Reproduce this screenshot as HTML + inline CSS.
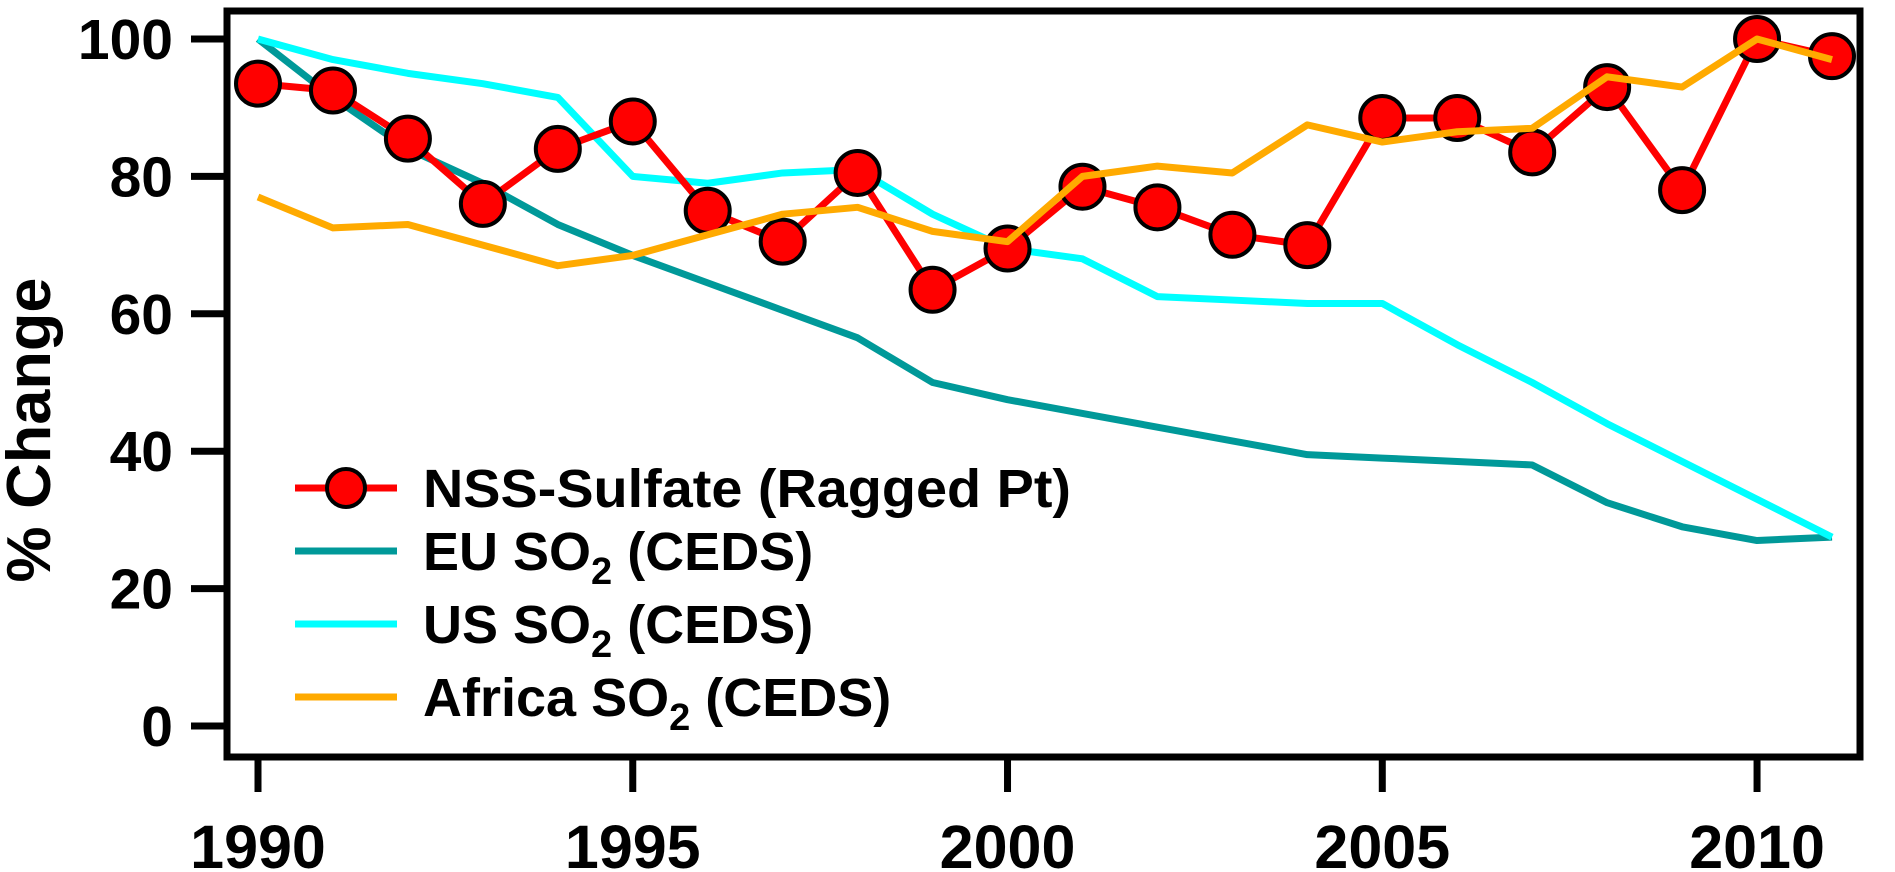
<!DOCTYPE html>
<html><head><meta charset="utf-8"><style>
html,body{margin:0;padding:0;background:#fff;}
svg{display:block;}
text{font-family:"Liberation Sans",Arial,sans-serif;font-weight:bold;fill:#000;}
</style></head><body>
<svg id="chart" width="1895" height="872" viewBox="0 0 1895 872" xmlns="http://www.w3.org/2000/svg">
<g id="series"></g>
<g id="axes"></g>
<g id="legend">
  <line x1="295" y1="488" x2="397" y2="488" stroke="#ff0000" stroke-width="7"/>
  <circle cx="346" cy="488" r="19" fill="#ff0000" stroke="#000" stroke-width="4"/>
  <text x="423" y="507" font-size="54" textLength="648" lengthAdjust="spacingAndGlyphs">NSS-Sulfate (Ragged Pt)</text>
  <line x1="295" y1="551" x2="397" y2="551" stroke="#009999" stroke-width="7"/>
  <text x="423" y="570" font-size="54">EU SO<tspan font-size="38" dy="14">2</tspan><tspan dy="-14"> (CEDS)</tspan></text>
  <line x1="295" y1="624" x2="397" y2="624" stroke="#00ffff" stroke-width="7"/>
  <text x="423" y="643" font-size="54">US SO<tspan font-size="38" dy="14">2</tspan><tspan dy="-14"> (CEDS)</tspan></text>
  <line x1="295" y1="697" x2="397" y2="697" stroke="#ffaa00" stroke-width="7"/>
  <text x="423" y="716" font-size="54">Africa SO<tspan font-size="38" dy="14">2</tspan><tspan dy="-14"> (CEDS)</tspan></text>
</g>
<text transform="translate(50,430) rotate(-90)" text-anchor="middle" font-size="62" textLength="305" lengthAdjust="spacingAndGlyphs">% Change</text>
</svg>
<script>
const years = [1990,1991,1992,1993,1994,1995,1996,1997,1998,1999,2000,2001,2002,2003,2004,2005,2006,2007,2008,2009,2010,2011];
const nss = [93.5,92.5,85.5,76,84,88,75,70.5,80.5,63.5,69.5,78.5,75.5,71.5,70,88.5,88.5,83.5,93,78,100,97.5];
const eu = [100,91.5,84,79,73,68.5,64.5,60.5,56.5,50,47.5,45.5,43.5,41.5,39.5,39,38.5,38,32.5,29,27,27.5];
const us = [100,97,95,93.5,91.5,80,79,80.5,81,74.5,69.5,68,62.5,62,61.5,61.5,55.5,50,44,38.5,33,27.5];
const africa = [77,72.5,73,70,67,68.5,71.5,74.5,75.5,72,70.5,80,81.5,80.5,87.5,85,86.5,87,94.5,93,100,97];
const yTicks = [0,20,40,60,80,100];
const xTicks = [1990,1995,2000,2005,2010];

const NS = 'http://www.w3.org/2000/svg';
const xS = v => 258 + (v - 1990) * (1832 - 258) / 21;
const yS = v => 726 - v * 6.87;
const sg = document.getElementById('series');
const ax = document.getElementById('axes');
function mk(tag, attrs, parent){ const e=document.createElementNS(NS,tag); for(const k in attrs) e.setAttribute(k,attrs[k]); parent.appendChild(e); return e; }
function line(vals, color, w, name){
  const p = mk('polyline',{points: vals.map((v,i)=>xS(years[i])+','+yS(v)).join(' '), fill:'none', stroke:color, 'stroke-width':w, 'stroke-linejoin':'round'}, sg);
  
  
}
line(eu,'#009999',7,'eu-so2-line');
line(us,'#00ffff',7,'us-so2-line');
line(nss,'#ff0000',7,'nss-sulfate-line');
nss.forEach((v,i)=>{
  const c = mk('circle',{cx:xS(years[i]), cy:yS(v), r:22, fill:'#ff0000', stroke:'#000', 'stroke-width':4}, sg);
  
  
});
line(africa,'#ffaa00',7,'africa-so2-line');

const fr = mk('rect',{x:227, y:11, width:1633, height:746, fill:'none', stroke:'#000', 'stroke-width':7}, ax);


yTicks.forEach(t=>{
  const l = mk('line',{x1:191, x2:227, y1:yS(t), y2:yS(t), stroke:'#000', 'stroke-width':7}, ax);
  
  
  const tx = mk('text',{x:173, y:yS(t)+20, 'text-anchor':'end', 'font-size':57}, ax);
  tx.textContent = t;
  
  
});
xTicks.forEach(t=>{
  const l = mk('line',{x1:xS(t), x2:xS(t), y1:757, y2:792, stroke:'#000', 'stroke-width':7}, ax);
  
  
  const tx = mk('text',{x:xS(t), y:868, 'text-anchor':'middle', 'font-size':61}, ax);
  tx.textContent = t;
  
  
});
</script>
</body></html>
